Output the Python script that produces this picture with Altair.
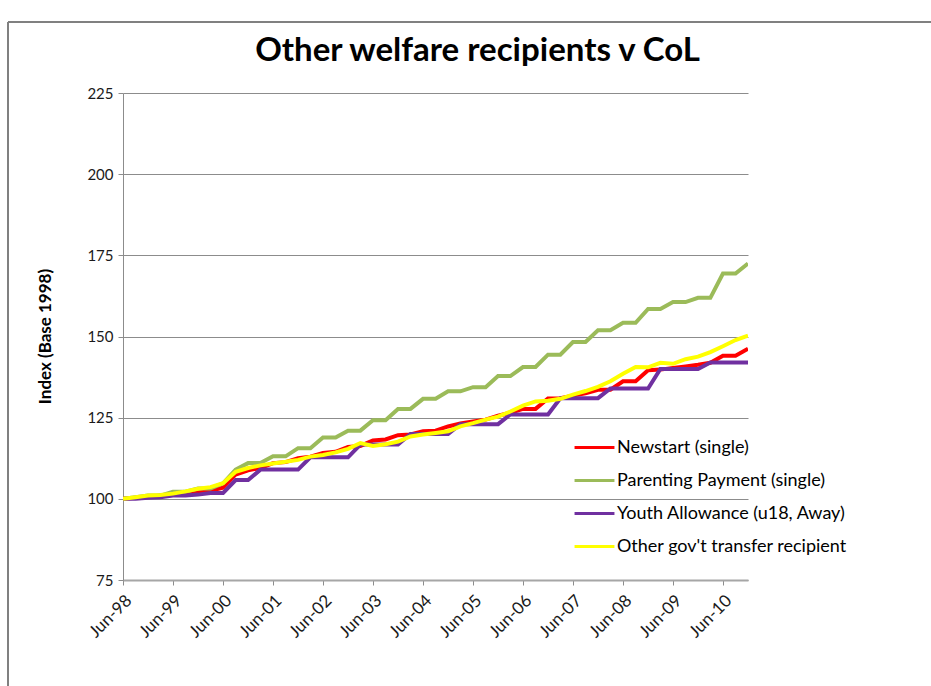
import altair as alt
import pandas as pd

# Quarterly observation dates, June 1998 to December 2010 (mid-month)
quarters = (pd.date_range("1998-06-01", periods=51, freq="3MS") + pd.Timedelta(days=14)).strftime("%Y-%m-%d").tolist()

series_names = [
    "Newstart (single)",
    "Parenting Payment (single)",
    "Youth Allowance (u18, Away)",
    "Other gov't transfer recipient",
]
series_colors = ["#FF0000", "#9BBB59", "#7030A0", "#FFFF00"]

newstart = [100, 100.3, 100.6, 101, 101.2, 101.5, 102, 102.5, 103.4, 107.5,
            108.8, 109.5, 111, 111.3, 112.5, 113, 114.1, 114.5, 116, 116.3,
            118, 118.3, 119.6, 119.8, 120.8, 121, 122.3, 123.2, 123.8, 124.4,
            125.6, 126.5, 127.7, 127.7, 130.9, 131, 131.8, 132.5, 133.6, 133.6,
            136.2, 136.2, 139.6, 139.8, 140.3, 140.8, 141.3, 141.9, 144.1, 144.1,
            146.2]
parenting = [100, 100.5, 101, 101, 102.2, 102.2, 103.2, 103.2, 104.8, 109,
             111, 111, 113.1, 113.1, 115.6, 115.6, 118.9, 118.9, 121, 121,
             124.2, 124.2, 127.7, 127.7, 130.8, 130.8, 133.1, 133.1, 134.4, 134.4,
             137.8, 137.8, 140.6, 140.6, 144.4, 144.4, 148.3, 148.3, 151.9, 151.9,
             154.2, 154.2, 158.5, 158.5, 160.6, 160.6, 161.9, 161.9, 169.4, 169.4,
             172.5]
youth = [100, 100, 100.3, 100.5, 101, 101, 101.3, 101.8, 101.8, 105.8,
         105.8, 109, 109, 109, 109, 112.8, 112.8, 112.8, 112.8, 116.7,
         116.7, 116.7, 116.7, 120, 120, 120, 120, 123, 123, 123,
         123, 126, 126, 126, 126, 131, 131, 131, 131, 134,
         134, 134, 134, 140, 140, 140, 140, 142, 142, 142,
         142]
other = [100, 100.5, 101, 101.2, 101.6, 102.3, 103.1, 103.6, 104.8, 108.3,
         109.5, 110.3, 110.9, 111.4, 112, 113, 113.5, 114.3, 115.4, 117.2,
         116.3, 116.8, 117.6, 119.2, 119.8, 120.3, 120.8, 122.3, 123.3, 124.4,
         125.3, 126.9, 128.7, 130, 130.2, 130.8, 132.1, 133.2, 134.5, 136.2,
         138.5, 140.6, 140.5, 141.9, 141.6, 143, 143.8, 145.2, 147, 148.9,
         150.3]

year_ticks = [f"{y}-06-15" for y in range(1998, 2011)]
y_ticks = [75, 100, 125, 150, 175, 200, 225]

rows = []
for name, vals in zip(series_names, [newstart, parenting, youth, other]):
    for d, v in zip(quarters, vals):
        rows.append({"date": d, "series": name, "value": v})
df = pd.DataFrame(rows)

FONT = "Lato"
GRAY = "#8c8c8c"

lines = alt.Chart(df).mark_line(strokeWidth=4, strokeJoin="miter", clip=True).encode(
    x=alt.X(
        "date:T",
        scale=alt.Scale(domain=["1998-06-15", "2010-12-15"]),
        axis=alt.Axis(
            values=year_ticks, format="%b-%y", labelAngle=-45, labelAlign="right",
            labelBaseline="top", labelPadding=7, tickSize=5, grid=False,
            labelOverlap=False,
            domainColor="#a6a6a6", domainWidth=2, tickColor=GRAY,
            labelFont=FONT, labelFontSize=17, labelColor="#1a1a1a", title=None,
        ),
    ),
    y=alt.Y(
        "value:Q",
        scale=alt.Scale(domain=[75, 225], nice=False, zero=False),
        axis=alt.Axis(
            values=y_ticks, tickSize=5, labelPadding=5, grid=True,
            gridColor=GRAY, gridWidth=1, domainColor=GRAY, tickColor=GRAY,
            labelFont=FONT, labelFontSize=15, labelColor="#1a1a1a",
            title="Index (Base 1998)", titleFont=FONT, titleFontSize=17,
            titleFontWeight="bold", titleColor="#000000", titleAngle=270,
            titleX=-78, titleY=243, titleAlign="center", titleBaseline="middle",
        ),
    ),
    color=alt.Color(
        "series:N",
        scale=alt.Scale(domain=series_names, range=series_colors),
        legend=alt.Legend(
            title=None, orient="none", legendX=455, legendY=338,
            symbolType="M-1.33,0H1.33", symbolSize=900, symbolStrokeWidth=3,
            labelFont=FONT, labelFontSize=18, labelColor="#000000", labelLimit=0,
            labelOffset=6, rowPadding=7, padding=0,
        ),
    ),
)

# Outer chart frame
frame_df = pd.DataFrame({"k": [0]})
frame_left = alt.Chart(frame_df).mark_rule(color="#808080", strokeWidth=2).encode(
    x=alt.value(-115), y=alt.value(-71), y2=alt.value(600)
)
frame_top = alt.Chart(frame_df).mark_rule(color="#808080", strokeWidth=2).encode(
    x=alt.value(-115), x2=alt.value(820), y=alt.value(-71)
)

chart = alt.layer(lines, frame_left, frame_top).properties(
    width=625,
    height=487,
    title=alt.Title(
        "Other welfare recipients v CoL", font=FONT, fontSize=33,
        fontWeight="bold", color="#000000", dx=42, dy=47, offset=0,
    ),
    autosize=alt.AutoSizeParams(type="none"),
    padding={"left": 123, "top": 93, "right": 183, "bottom": 106},
    background="white",
).configure_view(strokeWidth=0)

chart.save("out.html", embed_options={"renderer": "svg", "actions": False})
